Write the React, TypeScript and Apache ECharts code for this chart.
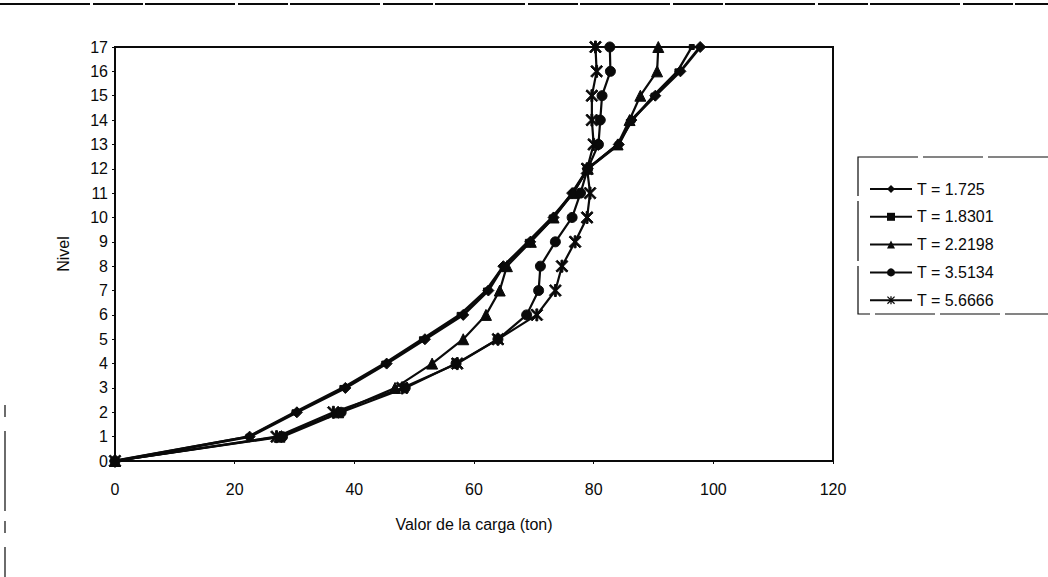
import React, { useEffect, useRef } from "react";
import * as echarts from "echarts";

// Nivel (story level) for every point of each curve
const niveles = [0, 1, 2, 3, 4, 5, 6, 7, 8, 9, 10, 11, 12, 13, 14, 15, 16, 17];

// Valor de la carga (ton) per level, one array per period T
const cargaT1725 = [0, 22.5, 30.4, 38.5, 45.4, 51.8, 58.2, 62.4, 64.9, 69.4, 73.3, 76.4, 79.0, 84.2, 86.3, 90.3, 94.5, 97.8];
const cargaT18301 = [0, 22.3, 30.0, 38.0, 45.0, 51.3, 57.6, 62.0, 64.9, 69.0, 73.0, 76.5, 79.0, 84.0, 86.5, 90.0, 94.0, 96.4];
const cargaT22198 = [0, 27.5, 37.3, 46.8, 53.0, 58.2, 62.0, 64.3, 65.5, 69.5, 73.3, 76.6, 79.0, 84.0, 86.0, 87.8, 90.6, 90.8];
const cargaT35134 = [0, 28.0, 37.8, 48.5, 57.0, 64.0, 68.8, 70.8, 71.1, 73.6, 76.4, 77.8, 79.0, 80.8, 81.1, 81.4, 82.8, 82.7];
const cargaT56666 = [0, 27.0, 36.5, 48.0, 57.2, 64.0, 70.5, 73.6, 74.7, 76.9, 78.9, 79.4, 78.9, 80.0, 79.7, 79.7, 80.5, 80.3];

const nombres = ["T = 1.725", "T = 1.8301", "T = 2.2198", "T = 3.5134", "T = 5.6666"];

const FONT = "'Liberation Sans', Arial, Helvetica, sans-serif";
const INK = "#0a0a0a";

// asterisk marker: vertical bar plus two diagonals
const ASTERISK =
  "path://M4.2,0 L5.8,0 L5.8,10 L4.2,10 Z M0,1.1 L1.1,0 L10,8.9 L8.9,10 Z M8.9,0 L10,1.1 L1.1,10 L0,8.9 Z";

function pares(valores: number[]) {
  return valores.map((v, i) => [v, niveles[i]]);
}

export default function App() {
  const ref = useRef<HTMLDivElement>(null);

  useEffect(() => {
    if (!ref.current) return;
    const chart = echarts.init(ref.current, null, { renderer: "svg" });

    const estilos = [
      { data: cargaT1725, symbol: "diamond", size: 11, width: 2.8 },
      { data: cargaT18301, symbol: "rect", size: 5, width: 2.4 },
      { data: cargaT22198, symbol: "triangle", size: 11, width: 2.2 },
      { data: cargaT35134, symbol: "circle", size: 10, width: 2.2 },
      { data: cargaT56666, symbol: ASTERISK, size: 12, width: 2.2 },
    ];

    const texto = { fontSize: 16, color: INK, fontFamily: FONT };

    chart.setOption({
      animation: false,
      backgroundColor: "#fff",
      textStyle: { fontFamily: FONT, color: INK },
      grid: {
        left: 115,
        right: 1048 - 833,
        top: 47,
        bottom: 577 - 461,
        show: true,
        borderColor: INK,
        borderWidth: 2,
        backgroundColor: "transparent",
      },
      xAxis: {
        type: "value",
        min: 0,
        max: 120,
        interval: 20,
        name: "Valor de la carga (ton)",
        nameLocation: "middle",
        nameGap: 55,
        nameTextStyle: texto,
        axisLine: { show: true, lineStyle: { color: INK, width: 2 } },
        axisTick: { show: true, length: 3, lineStyle: { color: INK } },
        axisLabel: { margin: 20, ...texto },
        splitLine: { show: false },
      },
      yAxis: {
        type: "value",
        min: 0,
        max: 17,
        interval: 1,
        name: "Nivel",
        nameLocation: "middle",
        nameGap: 44,
        nameTextStyle: texto,
        axisLine: { show: true, lineStyle: { color: INK, width: 2 } },
        axisTick: { show: true, length: 3, lineStyle: { color: INK } },
        axisLabel: { margin: 7, ...texto },
        splitLine: { show: false },
      },
      legend: {
        orient: "vertical",
        left: 864,
        top: 176,
        itemWidth: 42,
        itemHeight: 10,
        itemGap: 11.8,
        data: nombres,
        textStyle: texto,
        itemStyle: { color: INK },
      },
      graphic: [
        {
          type: "rect",
          shape: { x: 858, y: 157, width: 220, height: 157 },
          style: { fill: "none", stroke: INK, lineWidth: 1.2, lineDash: [60, 5] },
          silent: true,
        },
        {
          type: "line",
          shape: { x1: 0, y1: 4, x2: 1048, y2: 4 },
          style: { stroke: INK, lineWidth: 2, lineDash: [90, 3, 50, 2] },
          silent: true,
        },
        {
          type: "line",
          shape: { x1: 5, y1: 405, x2: 5, y2: 577 },
          style: { stroke: INK, lineWidth: 1.2, lineDash: [12, 14, 80, 10] },
          silent: true,
        },
      ],
      series: estilos.map((s, i) => ({
        name: nombres[i],
        type: "line",
        data: pares(s.data),
        symbol: s.symbol,
        symbolSize: s.size,
        showAllSymbol: true,
        clip: false,
        lineStyle: { color: INK, width: s.width },
        itemStyle: { color: INK, borderColor: INK },
        emphasis: { disabled: true },
      })),
    });

    return () => chart.dispose();
  }, []);

  return (
    <div
      ref={ref}
      style={{ position: "fixed", left: 0, top: 0, width: 1048, height: 577, background: "#fff" }}
    />
  );
}
